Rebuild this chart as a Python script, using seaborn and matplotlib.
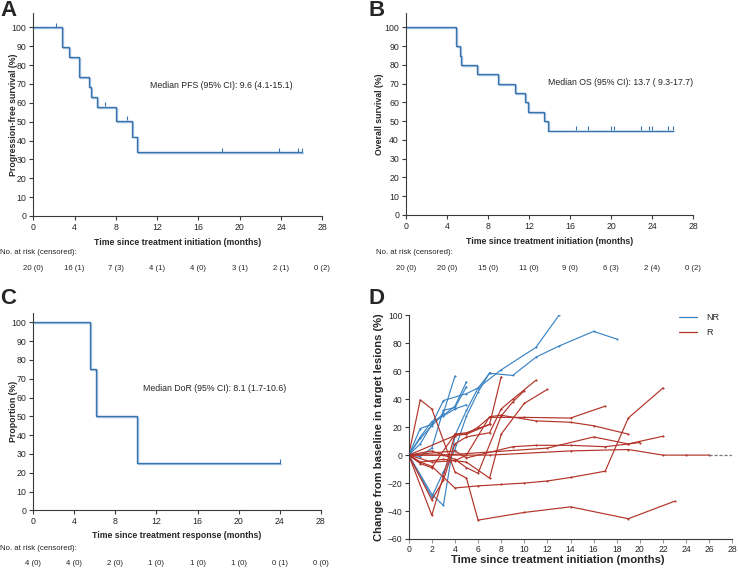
import numpy as np
import pandas as pd
import matplotlib
matplotlib.use("Agg")
import matplotlib.pyplot as plt
import matplotlib.transforms as mtransforms
from matplotlib.lines import Line2D
import seaborn as sns

sns.set_style("ticks")
plt.rcParams['font.family'] = ['Liberation Sans', 'DejaVu Sans']

# ---------------- data ----------------
# Panel A: PFS Kaplan-Meier
pfs_time = [0, 2.75, 3.49, 4.46, 5.43, 5.56, 6.14, 8.01, 9.56, 10.08, 26.0]
pfs_surv = [100, 89.5, 84.2, 73.7, 68.4, 63.2, 57.9, 50.5, 42.1, 33.7, 33.7]
pfs_cens_t = [2.2, 6.2, 6.98, 9.1, 18.3, 23.8, 25.6, 26.0]
pfs_cens_s = [100, 57.9, 57.9, 50.5, 33.7, 33.7, 33.7, 33.7]
pfs_risk = ["20 (0)", "16 (1)", "7 (3)", "4 (1)", "4 (0)", "3 (1)", "2 (1)", "0 (2)"]

# Panel B: OS Kaplan-Meier
os_time = [0, 4.88, 5.27, 5.37, 6.9, 9.0, 10.63, 11.6, 11.93, 13.5, 13.9, 26.08]
os_surv = [100, 90, 85, 80, 75, 70, 65, 60, 55, 50, 45, 45]
os_cens_t = [16.55, 17.8, 20.0, 20.3, 22.96, 23.7, 24.0, 25.6, 26.08]
os_cens_s = [45] * 9
os_risk = ["20 (0)", "20 (0)", "15 (0)", "11 (0)", "9 (0)", "6 (3)", "2 (4)", "0 (2)"]

# Panel C: DoR Kaplan-Meier
dor_time = [0, 5.5, 6.1, 10.1, 24.0]
dor_surv = [100, 75, 50, 25, 25]
dor_cens_t = [24.0]
dor_cens_s = [25]
dor_risk = ["4 (0)", "4 (0)", "2 (0)", "1 (0)", "1 (0)", "1 (0)", "0 (1)", "0 (0)"]

# Panel D: spider plot (month, % change)
nr_lines = {
    "NR1": ([0, 1, 2, 3, 4], [0, 12, 21, 30, 56.5]),
    "NR2": ([0, 1, 2, 3, 5, 6, 7, 9, 11, 13, 16, 18], [0, 19, 22, 39, 44, 48, 58.5, 57, 70, 78, 88.5, 83]),
    "NR3": ([0, 1, 2, 4, 5], [0, 8, 22, 35, 52.5]),
    "NR4": ([0, 1, 2, 3, 4, 5], [0, -1, 5, 32, 34, 49]),
    "NR5": ([0, 2, 3, 4, 5, 6, 8, 11, 13], [0, -28, -36, 14, 32, 48, 61, 77, 100]),
    "NR6": ([0, 2, 3, 4, 5, 6, 7], [0, -30, -12, 4, 28, 45, 59]),
    "NR7": ([0, 1, 2, 3, 4, 5], [0, 13, 24, 28, 33, 36]),
}
r_lines = {
    "R1": ([0, 1, 2, 4, 5, 6, 10, 14, 19, 23], [0, 39.5, 33, -12, -16.5, -46.5, -41, -37, -45.5, -33]),
    "R2": ([0, 2, 3, 4, 5, 7, 8], [0, -43, -15, 15, 16, 22, 56]),
    "R3": ([0, 2, 3, 4, 5, 7, 8, 9, 11], [0, -32, -18, 8, 13, 16, 33, 40, 53.5]),
    "R4": ([0, 1, 2, 4, 6, 8, 10, 12, 14, 17, 19, 22], [0, -5, -8, -23.5, -22, -21, -20, -18.5, -16, -11.5, 26.5, 48]),
    "R5": ([0, 4, 5, 6, 7, 10, 14, 17], [0, 14, 15, 20, 27, 27, 26.5, 35]),
    "R6": ([0, 1, 3, 5, 7, 8, 10, 12], [0, -5, -3, -5, -16.5, 15, 37, 47]),
    "R7": ([0, 2, 4, 5, 7, 8, 11, 14, 16, 19], [0, -5, -4, 0, 27.5, 28.5, 24.5, 23.5, 21, 15]),
    "R8": ([0, 2, 4, 5, 6, 8, 9, 10], [0, 3, -3, -9, -13, 28, 38, 46]),
    "R9": ([0, 4, 5, 9, 11, 14, 17, 19, 20], [0, 3, -2, 6, 7, 7, 6, 8, 9]),
    "R10": ([0, 7, 14, 19, 22, 24, 26], [0, 0, 3, 4, 0, 0, 0]),
    "R11": ([0, 3, 12, 16, 19, 22], [0, 0, 5, 13, 8, 13.5]),
    "R12": ([0, 1, 2, 4, 5, 7], [0, -6, -9, 15, 15, 22]),
}
groups = ["NR", "R"]

# ---------------- figure ----------------
W, H = 738, 568
fig = plt.figure(figsize=(W / 100, H / 100), dpi=100)


def add_axes_px(l, t, r, b):
    return fig.add_axes([l / W, 1 - b / H, (r - l) / W, (b - t) / H])


def fpx(x, y):
    return x / W, 1 - y / H


boxA = (33.3, 13.3, 322.3, 216)
boxB = (406, 13.3, 693, 215)
boxC = (33.3, 313.3, 320.7, 510.3)
boxD = (408.7, 315.3, 732.3, 539)
axA = add_axes_px(*boxA)
axB = add_axes_px(*boxB)
axC = add_axes_px(*boxC)
axD = add_axes_px(*boxD)

km_col = "#3a74ae"
km_light = "#a8c6e2"
spine_col = "#3a3a3a"
tick_fs = 6.3
lab_fs = 6.3


def km_panel(ax, box, t, s, ct, cs, ylab, xlab, median_txt, mpos, ytop, risk, risk_y, label_y,
             letter, letter_pos, xlab_y, ylab_x):
    df = pd.DataFrame({"t": t, "s": s})
    off = mtransforms.offset_copy(ax.transData, fig=fig, x=0.9, y=-0.9, units='dots')
    ax.plot(df["t"], df["s"], drawstyle="steps-post", color=km_light, lw=1.0, transform=off)
    sns.lineplot(data=df, x="t", y="s", ax=ax, drawstyle="steps-post", color=km_col,
                 lw=1.0, estimator=None, sort=False)
    ax.plot(ct, np.array(cs) + 1.2, ls="none", marker="|", ms=3.5, mew=0.8, color=km_col)
    ax.set_xlim(0, 28)
    ax.set_ylim(0, ytop)
    ax.set_xticks(range(0, 29, 4))
    ax.set_yticks(range(0, 101, 10))
    sns.despine(ax=ax)
    for sp in ax.spines.values():
        sp.set_color(spine_col)
        sp.set_linewidth(0.8)
    ax.tick_params(labelsize=tick_fs, length=3, width=0.8, color=spine_col, pad=2)
    l, tp, r, b = box
    hgt = b - tp
    wid = r - l
    ax.set_xlabel(xlab, fontsize=lab_fs, fontweight="bold")
    ax.xaxis.label.set_va("center")
    ax.xaxis.set_label_coords(0.5, -(xlab_y - b) / hgt)
    ax.set_ylabel(ylab, fontsize=lab_fs, fontweight="bold")
    ax.yaxis.label.set_va("center")
    ax.yaxis.set_label_coords(-(l - ylab_x) / wid, 0.5)
    ax.text(mpos[0], mpos[1], median_txt, fontsize=lab_fs, ha="center", va="center")
    # risk table
    fig.text(*fpx(risk[0], label_y), "No. at risk (censored):", fontsize=5.6, ha="left", va="center")
    for i, txt in enumerate(risk[1]):
        xx = l + wid * (i * 4) / 28
        fig.text(*fpx(xx, risk_y), txt, fontsize=5.6, ha="center", va="center")
    fig.text(*fpx(*letter_pos), letter, fontsize=16, fontweight="bold", ha="left", va="center")


km_panel(axA, boxA, pfs_time, pfs_surv, pfs_cens_t, pfs_cens_s,
         "Progression-free survival (%)", "Time since treatment initiation (months)",
         "Median PFS (95% CI): 9.6 (4.1-15.1)", (18.2, 69), 107.4,
         (0, pfs_risk), 268.7, 252.7, "A", (0, 10.5), 242.7, 13.3)
km_panel(axB, boxB, os_time, os_surv, os_cens_t, os_cens_s,
         "Overall survival (%)", "Time since treatment initiation (months)",
         "Median OS (95% CI): 13.7 ( 9.3-17.7)", (20.95, 70.5), 107.5,
         (376, os_risk), 268.7, 252.7, "B", (369, 10.5), 242.0, 379)
km_panel(axC, boxC, dor_time, dor_surv, dor_cens_t, dor_cens_s,
         "Proportion (%)", "Time since treatment response (months)",
         "Median DoR (95% CI): 8.1 (1.7-10.6)", (17.7, 64.9), 104.8,
         (0, dor_risk), 563.3, 548.3, "C", (0, 298), 536, 13.3)

# ---------------- panel D ----------------
rows = []
for grp, dd in (("NR", nr_lines), ("R", r_lines)):
    for pid, (tt, vv) in dd.items():
        for a, b in zip(tt, vv):
            rows.append({"pid": pid, "month": a, "change": b, "group": grp})
dfD = pd.DataFrame(rows)
pal = {"NR": "#3b84c4", "R": "#b23328"}
sns.lineplot(data=dfD, x="month", y="change", hue="group", units="pid", estimator=None,
             sort=False, palette=pal, lw=0.85, marker="o", ms=1.5, mew=0, ax=axD, legend=False)
axD.plot([26, 28], [0, 0], ls=(0, (2.5, 1.5)), color="#777777", lw=0.9)
axD.set_xlim(0, 28)
axD.set_ylim(-60, 100)
axD.set_xticks(range(0, 29, 2))
axD.set_yticks(range(-60, 101, 20))
sns.despine(ax=axD)
for sp in axD.spines.values():
    sp.set_color(spine_col)
    sp.set_linewidth(0.8)
axD.tick_params(labelsize=6.2, length=3, width=0.8, color=spine_col, pad=1.5)
axD.tick_params(axis="x", color="#999999")
l, tp, r, b = boxD
axD.set_xlabel("Time since treatment initiation (months)", fontsize=8.1, fontweight="bold")
axD.xaxis.label.set_va("center")
axD.xaxis.set_label_coords((557.8 - l) / (r - l), -(560.0 - b) / (b - tp))
axD.set_ylabel("Change from baseline in target lesions (%)", fontsize=8.1, fontweight="bold")
axD.yaxis.label.set_va("center")
axD.yaxis.set_label_coords(-(l - 379.3) / (r - l), 0.5)
handles = [Line2D([], [], color=pal[g], lw=0.9) for g in groups]
axD.legend(handles, groups, frameon=False, fontsize=6.5, loc="upper right",
           bbox_to_anchor=(0.985, 1.045), handlelength=2.0, labelspacing=0.6, handletextpad=1.0)
fig.text(*fpx(369, 298), "D", fontsize=16, fontweight="bold", ha="left", va="center")

fig.savefig("out.png", dpi=100)
